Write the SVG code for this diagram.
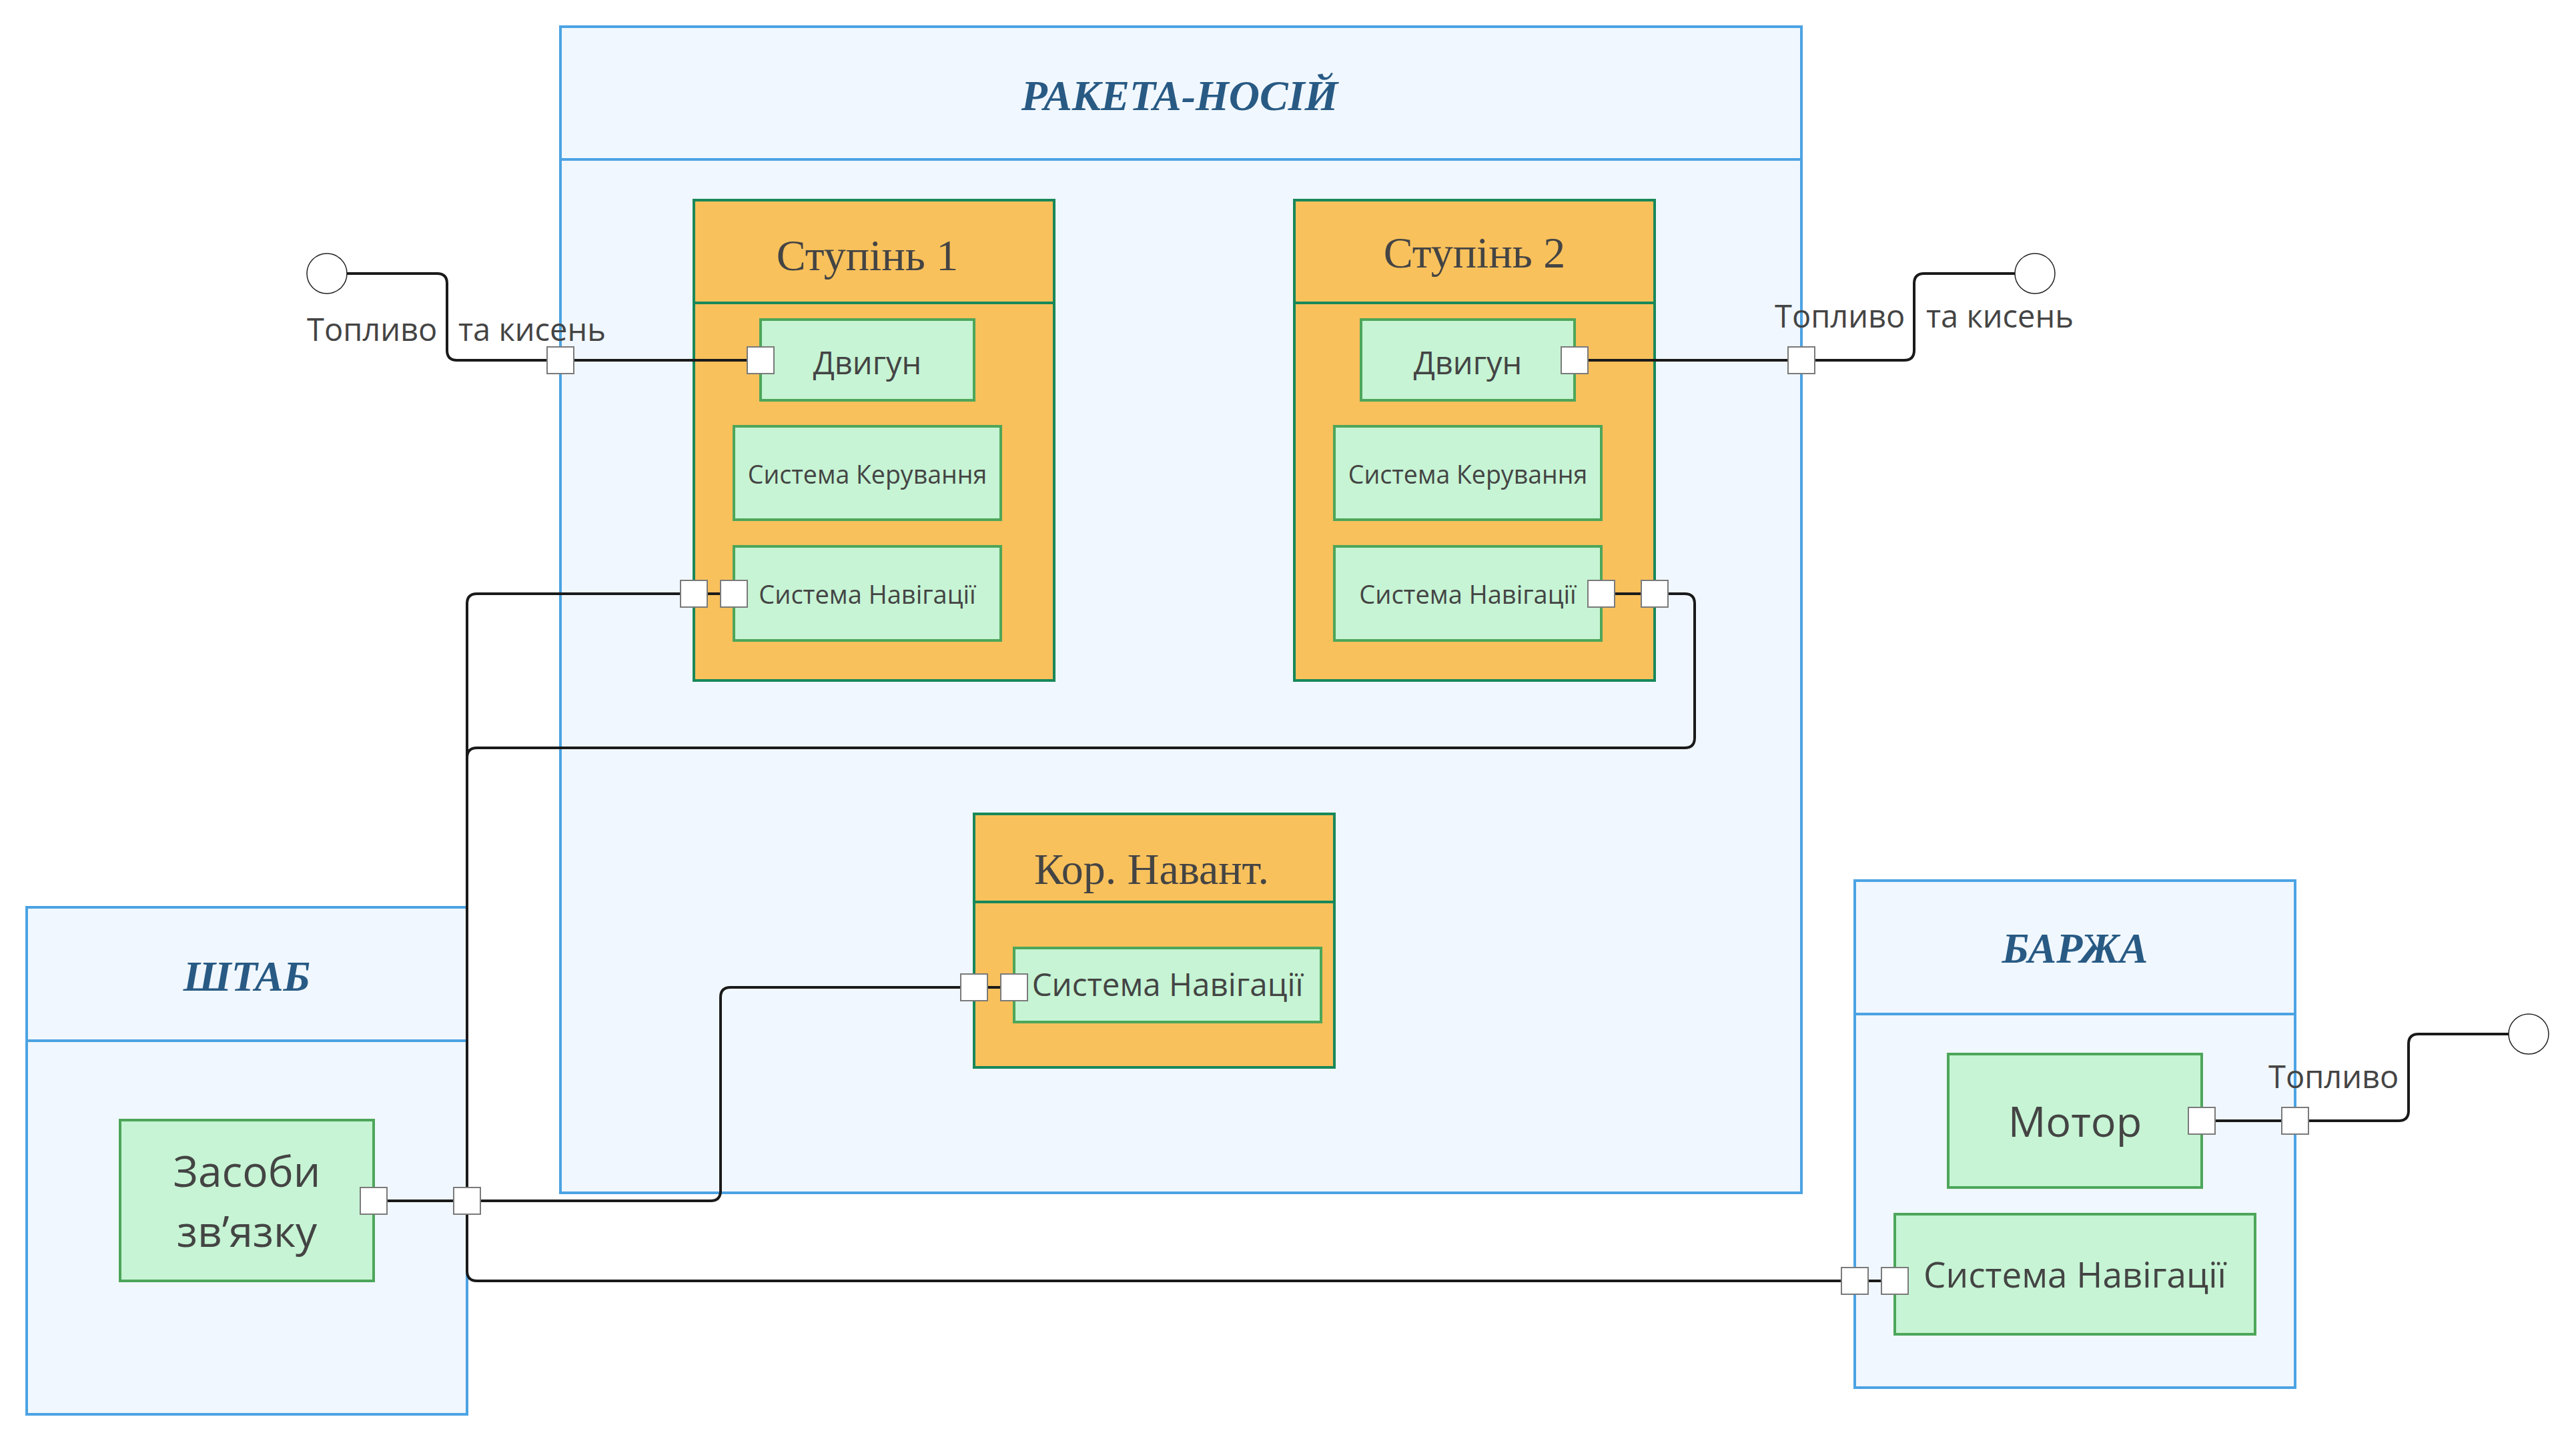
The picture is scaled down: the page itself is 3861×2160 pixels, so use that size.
<svg xmlns="http://www.w3.org/2000/svg" width="3861" height="2160" viewBox="0 0 3861 2160">
<style>
.frame{fill:#f0f7fe;stroke:#4ca3e3;stroke-width:4}
.stage{fill:#f8c15c;stroke:#18885a;stroke-width:4}
.box{fill:#c6f4d4;stroke:#4da65a;stroke-width:4}
.port{fill:#ffffff;stroke:#7a7a7a;stroke-width:2}
.end{fill:#ffffff;stroke:#222;stroke-width:1.5}
.wire{fill:none;stroke:#1a1a1a;stroke-width:4}
.ttl{font-family:"Liberation Serif",serif;font-weight:bold;font-style:italic;font-size:64px;fill:#285a84;text-anchor:middle}
.sub{font-family:"Liberation Serif",serif;font-size:66px;fill:#444;text-anchor:middle}
.t{font-family:"Open Sans","Noto Sans",sans-serif;fill:#444;text-anchor:middle}
.lbl{font-family:"Open Sans","Noto Sans",sans-serif;fill:#444;font-size:47px}
</style>
<g id="rocket">
<rect class="frame" x="840" y="40" width="1860" height="1748"/>
<line class="frame" x1="840" y1="239" x2="2700" y2="239"/>
<text class="ttl" x="1768" y="165">РАКЕТА-НОСІЙ</text>
</g>
<g id="stage1">
<rect class="stage" x="1040" y="300" width="540" height="720"/>
<line class="stage" x1="1040" y1="454" x2="1580" y2="454"/>
<text class="sub" x="1300" y="405">Ступінь 1</text>
</g>
<g id="engine1"><rect class="box" x="1140" y="479" width="320" height="121"/><text class="t" x="1300" y="561" font-size="47">Двигун</text></g>
<g id="control1"><rect class="box" x="1100" y="639" width="400" height="140"/><text class="t" x="1300" y="725" font-size="37.5">Система Керування</text></g>
<g id="nav1"><rect class="box" x="1100" y="819" width="400" height="141"/><text class="t" x="1300" y="905" font-size="38">Система Навігації</text></g>
<g id="stage2">
<rect class="stage" x="1940" y="300" width="540" height="720"/>
<line class="stage" x1="1940" y1="454" x2="2480" y2="454"/>
<text class="sub" x="2210" y="401">Ступінь 2</text>
</g>
<g id="engine2"><rect class="box" x="2040" y="479" width="320" height="121"/><text class="t" x="2200" y="561" font-size="47">Двигун</text></g>
<g id="control2"><rect class="box" x="2000" y="639" width="400" height="140"/><text class="t" x="2200" y="725" font-size="37.5">Система Керування</text></g>
<g id="nav2"><rect class="box" x="2000" y="819" width="400" height="141"/><text class="t" x="2200" y="905" font-size="38">Система Навігації</text></g>
<g id="payload">
<rect class="stage" x="1460" y="1220" width="540" height="380"/>
<line class="stage" x1="1460" y1="1352" x2="2000" y2="1352"/>
<text class="sub" x="1726" y="1325">Кор. Навант.</text>
</g>
<g id="nav3"><rect class="box" x="1520" y="1421" width="460" height="111"/><text class="t" x="1750" y="1493" font-size="47.5">Система Навігації</text></g>
<g id="hq">
<rect class="frame" x="40" y="1360" width="660" height="760"/>
<line class="frame" x1="40" y1="1560" x2="700" y2="1560"/>
<text class="ttl" x="370" y="1485">ШТАБ</text>
</g>
<g id="comms"><rect class="box" x="180" y="1679" width="380" height="241"/><text class="t" font-size="64"><tspan x="370" y="1779">Засоби</tspan><tspan x="370" y="1869">зв’язку</tspan></text></g>
<g id="barge">
<rect class="frame" x="2780" y="1320" width="660" height="760"/>
<line class="frame" x1="2780" y1="1520" x2="3440" y2="1520"/>
<text class="ttl" x="3110" y="1443">БАРЖА</text>
</g>
<g id="motor"><rect class="box" x="2920" y="1580" width="380" height="200"/><text class="t" x="3110" y="1704" font-size="63">Мотор</text></g>
<g id="nav4"><rect class="box" x="2840" y="1820" width="540" height="180"/><text class="t" x="3110" y="1930" font-size="53">Система Навігації</text></g>
<g id="connectors">
<path class="wire" d="M520,410 H655 Q670,410 670,425 V525 Q670,540 685,540 H1120"/>
<path class="wire" d="M2380,540 H2854 Q2869,540 2869,525 V425 Q2869,410 2884,410 H3020"/>
<path class="wire" d="M1080,890 H1060"/>
<path class="wire" d="M1020,890 H715 Q700,890 700,905 V1800"/>
<path class="wire" d="M2420,890 H2460"/>
<path class="wire" d="M2500,890 H2525 Q2540,890 2540,905 V1106 Q2540,1121 2525,1121 H715 Q700,1121 700,1136 V1800"/>
<path class="wire" d="M1500,1480 H1480"/>
<path class="wire" d="M1440,1480 H1095 Q1080,1480 1080,1495 V1785 Q1080,1800 1065,1800 H720"/>
<path class="wire" d="M580,1800 H680"/>
<path class="wire" d="M2820,1920 H2800"/>
<path class="wire" d="M2760,1920 H715 Q700,1920 700,1905 V1800"/>
<path class="wire" d="M3320,1680 H3420"/>
<path class="wire" d="M3460,1680 H3595 Q3610,1680 3610,1665 V1565 Q3610,1550 3625,1550 H3760"/>
<circle class="end" cx="490" cy="410" r="30"/>
<circle class="end" cx="3050" cy="410" r="30"/>
<circle class="end" cx="3790" cy="1550" r="30"/>
<rect class="port" x="820" y="520" width="40" height="40"/>
<rect class="port" x="1120" y="520" width="40" height="40"/>
<rect class="port" x="2340" y="520" width="40" height="40"/>
<rect class="port" x="2680" y="520" width="40" height="40"/>
<rect class="port" x="1020" y="870" width="40" height="40"/>
<rect class="port" x="1080" y="870" width="40" height="40"/>
<rect class="port" x="2380" y="870" width="40" height="40"/>
<rect class="port" x="2460" y="870" width="40" height="40"/>
<rect class="port" x="1440" y="1460" width="40" height="40"/>
<rect class="port" x="1500" y="1460" width="40" height="40"/>
<rect class="port" x="540" y="1780" width="40" height="40"/>
<rect class="port" x="680" y="1780" width="40" height="40"/>
<rect class="port" x="2760" y="1900" width="40" height="40"/>
<rect class="port" x="2820" y="1900" width="40" height="40"/>
<rect class="port" x="3280" y="1660" width="40" height="40"/>
<rect class="port" x="3420" y="1660" width="40" height="40"/>
<text class="lbl" y="511"><tspan x="460">Топливо</tspan><tspan x="687">та кисень</tspan></text>
<text class="lbl" y="491"><tspan x="2660">Топливо</tspan><tspan x="2887">та кисень</tspan></text>
<text class="lbl" x="3400" y="1631">Топливо</text>
</g>
</svg>
